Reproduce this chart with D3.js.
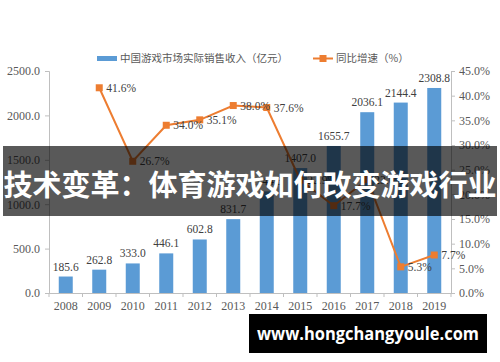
<!DOCTYPE html>
<html><head><meta charset="utf-8">
<script src="https://cdn.jsdelivr.net/npm/d3@7"></script>
<style>html,body{margin:0;padding:0;background:#fff;}svg{display:block;}</style>
</head><body>
<svg id="c" width="500" height="362"></svg>
<script>
const years = ["2008","2009","2010","2011","2012","2013","2014","2015","2016","2017","2018","2019"];
const revenue = [185.6,262.8,333.0,446.1,602.8,831.7,1144.8,1407.0,1655.7,2036.1,2144.4,2308.8];
const growthYears = ["2009","2010","2011","2012","2013","2014","2015","2016","2017","2018","2019"];
const growth = [41.6,26.7,34.0,35.1,38.0,37.6,22.9,17.7,23.0,5.3,7.7];
const leftTicks = [0,500,1000,1500,2000,2500];
const rightTicks = [0,5,10,15,20,25,30,35,40,45];
const legendLabels = ["中国游戏市场实际销售收入（亿元）","同比增速（%）"];
const titleText = "技术变革：体育游戏如何改变游戏行业";
const siteText = "www.hongchangyoule.com";

const svg = d3.select("#c");
const m = {l:49, r:451, t:71, b:293};
const xb = d3.scaleBand().domain(years).range([m.l, m.r]);
const yL = d3.scaleLinear().domain([0,2500]).range([m.b, m.t]);
const yR = d3.scaleLinear().domain([0,45]).range([m.b, m.t]);
const serif = "'Liberation Serif','Times New Roman',serif";
const axisCol = "#bfbfbf", txtCol = "#595959";

// bars
svg.append("g").selectAll("rect").data(revenue).join("rect")
  .attr("x",(d,i)=>xb(years[i])+xb.bandwidth()/2-7)
  .attr("width",14)
  .attr("y",d=>yL(d)).attr("height",d=>m.b-yL(d))
  .attr("fill","#5b9bd5");
svg.append("g").selectAll("text").data(revenue).join("text")
  .attr("x",(d,i)=>xb(years[i])+xb.bandwidth()/2)
  .attr("y",d=>yL(d)-6)
  .attr("text-anchor","middle").attr("font-family",serif).attr("font-size",11.5)
  .attr("fill","#404040").text(d=>d.toFixed(1));

// axes
const gl = svg.append("g").attr("transform",`translate(${m.l},0)`)
  .call(d3.axisLeft(yL).tickValues(leftTicks).tickFormat(d=>d.toFixed(1)).tickSize(4).tickPadding(5));
const gr = svg.append("g").attr("transform",`translate(${m.r},0)`)
  .call(d3.axisRight(yR).tickValues(rightTicks).tickFormat(d=>d.toFixed(1)+"%").tickSize(4).tickPadding(4));
const gx = svg.append("g").attr("transform",`translate(0,${m.b})`)
  .call(d3.axisBottom(xb).tickSize(0).tickPadding(8));
[gl,gr,gx].forEach(g=>{
  g.selectAll("path,line").attr("stroke",axisCol);
  g.selectAll("text").attr("font-family",serif).attr("font-size",12).attr("fill",txtCol);
});
gx.select(".domain").attr("d",`M${m.l},0.5H${m.r}`);
// category separator ticks
svg.append("g").selectAll("line").data(years.concat(["end"])).join("line")
  .attr("x1",(d,i)=>m.l+i*xb.bandwidth()).attr("x2",(d,i)=>m.l+i*xb.bandwidth())
  .attr("y1",m.b).attr("y2",m.b+4).attr("stroke",axisCol);

// line
const cx = d=>xb(d)+xb.bandwidth()/2;
const lineGen = d3.line().x((d,i)=>cx(growthYears[i])).y(d=>yR(d));
svg.append("path").datum(growth).attr("d",lineGen)
  .attr("fill","none").attr("stroke","#ed7d31").attr("stroke-width",2);
svg.append("g").selectAll("rect").data(growth).join("rect")
  .attr("x",(d,i)=>cx(growthYears[i])-3.5).attr("y",d=>yR(d)-3.5)
  .attr("width",7).attr("height",7).attr("fill","#ed7d31");
svg.append("g").selectAll("text").data(growth).join("text")
  .attr("x",(d,i)=>cx(growthYears[i])+7).attr("y",d=>yR(d)+4)
  .attr("font-family",serif).attr("font-size",11.5).attr("fill","#404040")
  .text(d=>d.toFixed(1)+"%");

// legend
const lg = svg.append("g");
lg.append("rect").attr("x",97).attr("y",56).attr("width",20).attr("height",5).attr("fill","#5b9bd5");
lg.append("text").attr("x",120).attr("y",62).attr("font-family","'Noto Sans CJK SC',sans-serif")
  .attr("font-size",10.5).attr("fill",txtCol).text(legendLabels[0]);
lg.append("line").attr("x1",313).attr("x2",333).attr("y1",58.5).attr("y2",58.5).attr("stroke","#ed7d31").attr("stroke-width",2);
lg.append("rect").attr("x",319.5).attr("y",55).attr("width",7).attr("height",7).attr("fill","#ed7d31");
lg.append("text").attr("x",336).attr("y",62).attr("font-family","'Noto Sans CJK SC',sans-serif")
  .attr("font-size",10.5).attr("fill",txtCol).text(legendLabels[1]);

// title banner overlay
svg.append("rect").attr("x",3).attr("y",146).attr("width",494).attr("height",70)
  .attr("fill","#000").attr("fill-opacity",0.65);
svg.append("text").attr("x",250).attr("y",196).attr("text-anchor","middle")
  .attr("font-family","'Noto Sans CJK SC',sans-serif").attr("font-weight",700)
  .attr("font-size",29).attr("fill","#fff").text(titleText);

// site watermark
svg.append("rect").attr("x",249).attr("y",314).attr("width",238).attr("height",39).attr("fill","#000");
svg.append("text").attr("x",368).attr("y",340).attr("text-anchor","middle")
  .attr("font-family","'Open Sans',sans-serif").attr("font-weight",700)
  .attr("font-size",17).attr("textLength",222).attr("lengthAdjust","spacingAndGlyphs")
  .attr("fill","#fff").text(siteText);
</script>
</body></html>
